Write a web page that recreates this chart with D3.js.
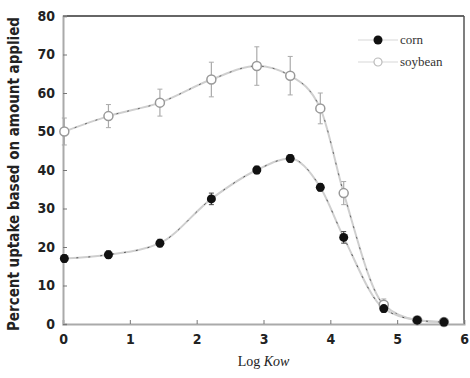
<!DOCTYPE html>
<html>
<head>
<meta charset="utf-8">
<script src="https://cdn.jsdelivr.net/npm/d3@7"></script>
<style>
  body { margin: 0; background: #fff; }
  svg { display: block; }
</style>
</head>
<body>
<svg id="chart"></svg>
<script>
const logKow = [0.02, 0.68, 1.45, 2.22, 2.9, 3.4, 3.85, 4.2, 4.8, 5.3, 5.7]
const corn = [17, 18, 21, 32.5, 40, 43, 35.5, 22.5, 4, 1, 0.5]
const cornErr = [1, 1, 1, 1.5, 1, 1, 1, 1.5, 1, 0.5, 0.3]
const soybean = [50, 54, 57.5, 63.5, 67, 64.5, 56, 34, 5, 1, 0.5]
const soyErr = [3.5, 3, 3.5, 4.5, 5, 5, 4, 3, 1.5, 0.5, 0.3]
const xTicks = [0, 1, 2, 3, 4, 5, 6]
const yTicks = [0, 10, 20, 30, 40, 50, 60, 70, 80]

function initializeElements() {
const margin = ({top: 16, right: 6, bottom: 54, left: 63})
const svgWidth = 470
const svgHeight = 378
const width = svgWidth - margin.left - margin.right
const height = svgHeight - margin.top - margin.bottom

const chart = d3.select("#chart")
    .attr("width", svgWidth)
    .attr("height", svgHeight)

const xScale = d3.scaleLinear().domain([0, 6]).range([0, width])
const yScale = d3.scaleLinear().domain([0, 80]).range([height, 0])

const g = chart.append("g")
    .attr("transform", `translate(${margin.left}, ${margin.top})`)

// frame: top and right are dark, left/bottom are light
g.append("line").attr("x1", 0).attr("x2", width).attr("y1", 0).attr("y2", 0)
    .attr("stroke", "#333").attr("stroke-width", 1.5)
g.append("line").attr("x1", width).attr("x2", width).attr("y1", 0).attr("y2", height)
    .attr("stroke", "#555").attr("stroke-width", 1.5)

// axes
const xAxis = g.append("g")
    .attr("transform", `translate(0, ${height})`)
    .call(d3.axisBottom(xScale).tickValues(xTicks).tickSize(-4).tickPadding(10).tickFormat(d3.format("d")))
const yAxis = g.append("g")
    .call(d3.axisLeft(yScale).tickValues(yTicks).tickSize(-4).tickPadding(8))

;[xAxis, yAxis].forEach(a => {
    a.select(".domain").attr("stroke", "#aaa").attr("stroke-width", 2)
    a.selectAll(".tick line").attr("stroke", "#777")
    a.selectAll("text")
        .attr("fill", "#222")
        .style("font-family", "'Liberation Sans Narrow', 'DejaVu Sans Condensed', sans-serif")
        .style("font-weight", "bold")
        .style("font-size", "14px")
})

const line = d3.line()
    .x((d, i) => xScale(logKow[i]))
    .y(d => yScale(d))
    .curve(d3.curveMonotoneX)

// curves
g.append("path").datum(soybean).attr("d", line)
    .attr("fill", "none").attr("stroke", "#cfcfcf").attr("stroke-width", 2)
g.append("path").datum(soybean).attr("d", line)
    .attr("fill", "none").attr("stroke", "#666").attr("stroke-width", 1)
    .attr("stroke-dasharray", "2,9")
g.append("path").datum(corn).attr("d", line)
    .attr("fill", "none").attr("stroke", "#cfcfcf").attr("stroke-width", 2)
g.append("path").datum(corn).attr("d", line)
    .attr("fill", "none").attr("stroke", "#555").attr("stroke-width", 1)
    .attr("stroke-dasharray", "2,10")

// error bars
function errorBars(values, errs, color) {
    const eb = g.append("g")
    eb.selectAll("line.v").data(values).join("line")
        .attr("x1", (d, i) => xScale(logKow[i])).attr("x2", (d, i) => xScale(logKow[i]))
        .attr("y1", (d, i) => yScale(d - errs[i])).attr("y2", (d, i) => yScale(d + errs[i]))
        .attr("stroke", color).attr("stroke-width", 1.2)
    eb.selectAll("line.t").data(values).join("line")
        .attr("x1", (d, i) => xScale(logKow[i]) - 2.5).attr("x2", (d, i) => xScale(logKow[i]) + 2.5)
        .attr("y1", (d, i) => yScale(d + errs[i])).attr("y2", (d, i) => yScale(d + errs[i]))
        .attr("stroke", color).attr("stroke-width", 1)
    eb.selectAll("line.b").data(values).join("line")
        .attr("x1", (d, i) => xScale(logKow[i]) - 2.5).attr("x2", (d, i) => xScale(logKow[i]) + 2.5)
        .attr("y1", (d, i) => yScale(d - errs[i])).attr("y2", (d, i) => yScale(d - errs[i]))
        .attr("stroke", color).attr("stroke-width", 1)
}
errorBars(soybean, soyErr, "#aaa")
errorBars(corn, cornErr, "#444")

// markers
g.append("g").selectAll("circle").data(soybean).join("circle")
    .attr("cx", (d, i) => xScale(logKow[i]))
    .attr("cy", d => yScale(d))
    .attr("r", 4.5)
    .attr("fill", "#fff").attr("stroke", "#999").attr("stroke-width", 1.5)
g.append("g").selectAll("circle").data(corn).join("circle")
    .attr("cx", (d, i) => xScale(logKow[i]))
    .attr("cy", d => yScale(d))
    .attr("r", 4.5)
    .attr("fill", "#111")

// legend
const legend = g.append("g").attr("transform", `translate(${width - 86}, 24)`)
legend.append("line").attr("x1", -20).attr("x2", 20).attr("y1", 0).attr("y2", 0)
    .attr("stroke", "#ebebeb").attr("stroke-width", 2)
legend.append("circle").attr("cx", 0).attr("cy", 0).attr("r", 4.5).attr("fill", "#111")
legend.append("text").attr("x", 22).attr("y", 4).text("corn")
legend.append("line").attr("x1", -20).attr("x2", 20).attr("y1", 22).attr("y2", 22)
    .attr("stroke", "#ebebeb").attr("stroke-width", 2)
legend.append("circle").attr("cx", 0).attr("cy", 22).attr("r", 4).attr("fill", "#fff")
    .attr("stroke", "#bbb").attr("stroke-width", 1.2)
legend.append("text").attr("x", 22).attr("y", 26).text("soybean")
legend.selectAll("text")
    .style("font-family", "'Liberation Serif', serif")
    .style("font-size", "13px")
    .attr("fill", "#333")

// axis titles
chart.append("text")
    .attr("x", margin.left + xScale(3))
    .attr("y", svgHeight - 12)
    .attr("text-anchor", "middle")
    .style("font-family", "'Liberation Serif', serif")
    .style("font-size", "14px")
    .attr("fill", "#222")
    .html("Log <tspan font-style='italic'>Kow</tspan>")

chart.append("text")
    .attr("transform", `translate(19, ${margin.top + height / 2 + 4}) rotate(-90)`)
    .attr("text-anchor", "middle")
    .style("font-family", "'Liberation Sans Narrow', 'DejaVu Sans Condensed', sans-serif")
    .style("font-weight", "bold")
    .style("font-size", "15px")
    .attr("fill", "#222")
    .text("Percent uptake based on amount applied")
}

initializeElements();
</script>
</body>
</html>
